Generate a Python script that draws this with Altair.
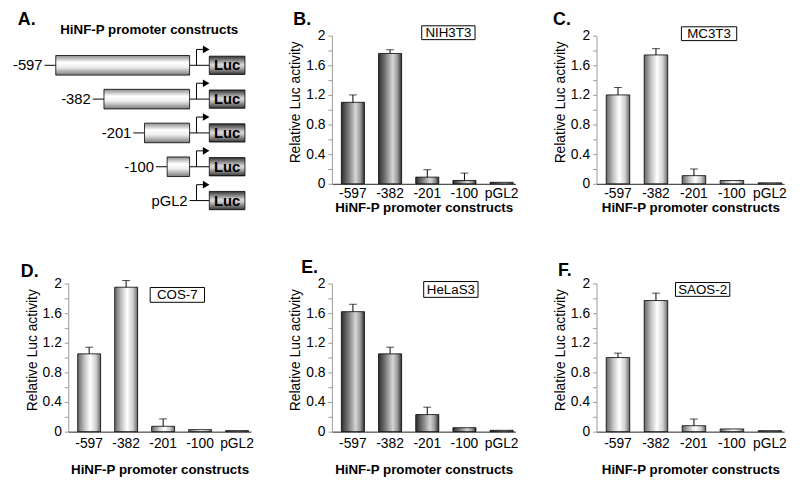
import altair as alt
import pandas as pd

FONT = "Liberation Sans"

# ---------------- data ----------------
constructs = ["-597", "-382", "-201", "-100", "pGL2"]
y_major = [0, 0.4, 0.8, 1.2, 1.6, 2.0]
y_minor = [0.2, 0.6, 1.0, 1.4, 1.8]

panel_letters = ["B.", "C.", "D.", "E.", "F."]
cell_lines = ["NIH3T3", "MC3T3", "COS-7", "HeLaS3", "SAOS-2"]

nih3t3_mean = [1.10, 1.76, 0.09, 0.045, 0.02]
nih3t3_err = [0.10, 0.05, 0.10, 0.10, 0.0]
mc3t3_mean = [1.20, 1.74, 0.11, 0.044, 0.013]
mc3t3_err = [0.10, 0.085, 0.09, 0.0, 0.0]
cos7_mean = [1.05, 1.95, 0.072, 0.027, 0.014]
cos7_err = [0.09, 0.09, 0.10, 0.0, 0.0]
helas3_mean = [1.62, 1.05, 0.23, 0.053, 0.018]
helas3_err = [0.10, 0.09, 0.10, 0.0, 0.0]
saos2_mean = [1.00, 1.77, 0.08, 0.036, 0.013]
saos2_err = [0.06, 0.10, 0.09, 0.0, 0.0]

diagram_labels = ["-597", "-382", "-201", "-100", "pGL2"]
diagram_starts = [-597, -382, -201, -100, None]
diagram_rows = [0, 1, 2, 3, 4]
diagram_title = "HiNF-P promoter constructs"

# schematic geometry (bp-like units of the diagram)
TSS = 0
ARROW_X = 31
ARROW_END = 62
ARROW_HEAD = 74
LUC_START = 88
LUC_END = 247
LEADER = 50

# ---------------- styles ----------------
def lin_grad(stops, vertical=False):
    return alt.LinearGradient(
        gradient="linear",
        stops=[alt.GradientStop(color=c, offset=o) for o, c in stops],
        x1=0, x2=0 if vertical else 1, y1=0, y2=1 if vertical else 0,
    )

dark_bar = lin_grad([(0, "#2e2e2e"), (0.3, "#7a7a7a"), (0.62, "#d6d6d6"), (0.82, "#9a9a9a"), (1, "#2e2e2e")])
light_bar = lin_grad([(0, "#666666"), (0.3, "#c4c4c4"), (0.55, "#ffffff"), (0.8, "#cfcfcf"), (1, "#666666")])
promoter_fill = lin_grad([(0, "#8a8a8a"), (0.35, "#ffffff"), (0.6, "#eeeeee"), (1, "#7a7a7a")], vertical=True)
luc_fill = lin_grad([(0, "#333333"), (0.45, "#d8d8d8"), (0.58, "#c8c8c8"), (1, "#333333")], vertical=True)

# ---------------- panel A: diagram ----------------
A_W, A_H = 185, 150
xs = alt.Scale(domain=[-541.4, 273.6], nice=False, zero=False)
ys = alt.Scale(domain=[-0.876, 3.504], nice=False, zero=False, reverse=True)

dg = pd.DataFrame({"label": diagram_labels, "start": diagram_starts, "row": diagram_rows})
dg["y1"] = dg["row"] - 0.29
dg["y2"] = dg["row"] + 0.29
dg["ly1"] = dg["row"] - 0.27
dg["ly2"] = dg["row"] + 0.27
dg["arrow_top"] = dg["row"] - 0.47
dg["tss"] = TSS
dg["ax"] = ARROW_X
dg["aend"] = ARROW_END
dg["ahead"] = ARROW_HEAD
dg["luc1"] = LUC_START
dg["luc2"] = LUC_END
dg["luc_mid"] = (LUC_START + LUC_END) / 2
dg["lead1"] = dg["start"] - LEADER
dg["label_x"] = dg["lead1"].fillna(TSS)
dg["luc_txt"] = "Luc"

baseA = alt.Chart(dg)
promo = baseA.transform_filter("isValid(datum.start)")

X = lambda f: alt.X(f, type="quantitative", scale=xs, axis=None)
Y = lambda f: alt.Y(f, type="quantitative", scale=ys, axis=None)

a_layers = [
    baseA.mark_rule(color="black", strokeWidth=1).encode(x=X("tss"), x2="luc1", y=Y("row")),
    promo.mark_rule(color="black", strokeWidth=1).encode(x=X("lead1"), x2="start", y=Y("row")),
    promo.mark_rect(fill=promoter_fill, stroke="black", strokeWidth=0.8).encode(
        x=X("start"), x2="tss", y=Y("y1"), y2="y2"),
    baseA.mark_rule(color="black", strokeWidth=1).encode(x=X("ax"), y=Y("row"), y2="arrow_top"),
    baseA.mark_rule(color="black", strokeWidth=1).encode(x=X("ax"), x2="aend", y=Y("arrow_top")),
    baseA.mark_point(shape="triangle-right", filled=True, color="black", size=60, opacity=1).encode(
        x=X("ahead"), y=Y("arrow_top")),
    baseA.mark_rect(fill=luc_fill, stroke="black", strokeWidth=0.8).encode(
        x=X("luc1"), x2="luc2", y=Y("ly1"), y2="ly2"),
    baseA.mark_text(font=FONT, fontSize=15, fontWeight="bold", color="black").encode(
        x=X("luc_mid"), y=Y("row"), text="luc_txt:N"),
    baseA.mark_text(font=FONT, fontSize=15, align="right", dx=-2, color="black").encode(
        x=X("label_x"), y=Y("row"), text="label:N"),
    alt.Chart(pd.DataFrame({"t": ["A."]})).mark_text(
        font=FONT, fontSize=18, fontWeight="bold", align="left", baseline="top", color="black"
    ).encode(x=alt.value(-51), y=alt.value(-25), text="t:N"),
    alt.Chart(pd.DataFrame({"t": [diagram_title]})).mark_text(
        font=FONT, fontSize=13.5, fontWeight="bold", align="center", baseline="middle", color="black"
    ).encode(x=alt.value(82), y=alt.value(-6), text="t:N"),
]
panelA = alt.layer(*a_layers).properties(width=A_W, height=A_H)

# ---------------- bar panels ----------------
def bar_panel(letter, cell, means, errs, fill, width, letter_xy, box, row2=False):
    df = pd.DataFrame({"construct": constructs, "value": means, "err": errs})
    df["top"] = df["value"] + df["err"]
    base = alt.Chart(df)
    yscale = alt.Scale(domain=[0, 2], nice=False)
    xscale = alt.Scale(paddingInner=0.38, paddingOuter=0.16, align=0.8)
    xaxis = alt.Axis(
        title="HiNF-P promoter constructs", labelAngle=0, ticks=False, domainColor="#222222",
        labelFont=FONT, labelFontSize=14, labelColor="black", labelPadding=5 if row2 else 3,
        titleFont=FONT, titleFontSize=13.5, titleFontWeight="bold", titleColor="black",
        titlePadding=12 if row2 else 0,
    )
    yaxis = alt.Axis(
        values=y_major, format="~g", title="Relative Luc activity", grid=False, orient="left",
        labelOverlap=False, labelFlush=False,
        domainColor="#9a9a9a", tickColor="#9a9a9a", tickSize=4,
        labelFont=FONT, labelFontSize=14, labelColor="black", labelPadding=3,
        titleFont=FONT, titleFontSize=14, titleFontWeight="normal", titleColor="black", titlePadding=3,
        titleY=67,
    )
    minor_axis = alt.Axis(
        values=y_minor, labels=False, domain=False, grid=False, title=None, orient="left",
        tickColor="#9a9a9a", tickSize=4,
    )
    xenc = alt.X("construct:N", sort=constructs, scale=xscale, axis=xaxis)
    bars = base.mark_bar(fill=fill, stroke="black", strokeWidth=0.8).encode(
        x=xenc, y=alt.Y("value:Q", scale=yscale, axis=yaxis))
    eb = base.transform_filter("datum.err > 0")
    rules = eb.mark_rule(color="black", strokeWidth=1).encode(
        x=alt.X("construct:N", sort=constructs), y=alt.Y("value:Q", axis=None), y2="top:Q")
    caps = eb.mark_tick(color="black", size=8, thickness=1, orient="horizontal").encode(
        x=alt.X("construct:N", sort=constructs), y=alt.Y("top:Q", axis=minor_axis))
    let = alt.Chart(pd.DataFrame({"t": [letter]})).mark_text(
        font=FONT, fontSize=18, fontWeight="bold", align="left", baseline="top", color="black"
    ).encode(x=alt.value(letter_xy[0]), y=alt.value(letter_xy[1]), text="t:N")
    bx1, bx2, by1, by2 = box
    cell_df = pd.DataFrame({"t": [cell]})
    frame = alt.Chart(cell_df).mark_rect(fill="white", stroke="black", strokeWidth=1).encode(
        x=alt.value(bx1), x2=alt.value(bx2), y=alt.value(by1), y2=alt.value(by2))
    label = alt.Chart(cell_df).mark_text(
        font=FONT, fontSize=13.5, align="center", baseline="middle", color="black"
    ).encode(x=alt.value((bx1 + bx2) / 2), y=alt.value((by1 + by2) / 2 + 0.5), text="t:N")
    return (alt.layer(bars, rules, caps, frame, label, let)
            .resolve_axis(y="independent")
            .properties(width=width, height=150))


panelB = bar_panel(panel_letters[0], cell_lines[0], nih3t3_mean, nih3t3_err, dark_bar, 186,
                   (-39, -25), (91, 145, -10, 4))
panelC = bar_panel(panel_letters[1], cell_lines[1], mc3t3_mean, mc3t3_err, light_bar, 190,
                   (-44, -25), (86, 142, -9, 5))
panelD = bar_panel(panel_letters[2], cell_lines[2], cos7_mean, cos7_err, light_bar, 185,
                   (-48, -21), (83, 138, 4, 19), row2=True)
panelE = bar_panel(panel_letters[3], cell_lines[3], helas3_mean, helas3_err, dark_bar, 186,
                   (-31, -25), (93, 148, -2, 14), row2=True)
panelF = bar_panel(panel_letters[4], cell_lines[4], saos2_mean, saos2_err, light_bar, 190,
                   (-39, -22), (80, 135, -1, 13), row2=True)

chart = alt.concat(
    panelA, panelB, panelC, panelD, panelE, panelF,
    columns=3, bounds="flush", align="each",
    spacing=alt.RowColnumber(row=101, column=82),
).properties(
    padding={"left": 5, "top": 0, "right": 5, "bottom": 5},
    background="white",
).configure_view(stroke=None)

chart.save("out.html", embed_options={"renderer": "svg", "actions": False})
